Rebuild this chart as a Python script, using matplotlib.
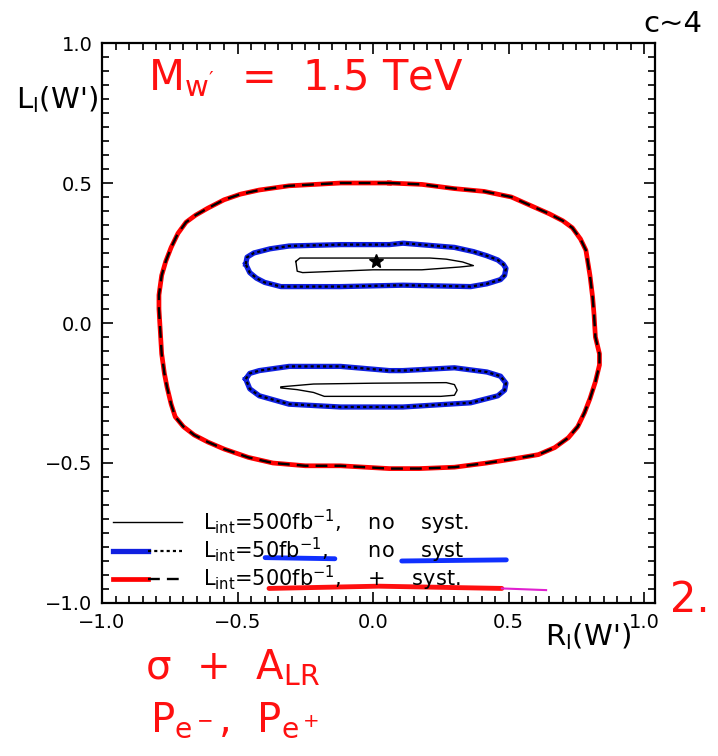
import numpy as np
import matplotlib
matplotlib.use("Agg")
import matplotlib.pyplot as plt
from matplotlib.lines import Line2D
from matplotlib.legend_handler import HandlerTuple
from matplotlib.ticker import MultipleLocator

plt.rcParams['font.family'] = ['DejaVu Sans']
plt.rcParams['mathtext.default'] = 'regular'

# Outer contour: L_int = 500 fb^-1 with systematics
outer_x = [0.06, -0.12, -0.31, -0.42, -0.49, -0.55, -0.61, -0.655, -0.69, -0.72, -0.745, -0.765,
           -0.78, -0.79, -0.79, -0.785, -0.78, -0.77, -0.76, -0.745, -0.73, -0.70, -0.66, -0.61,
           -0.55, -0.46, -0.37, -0.25, -0.12, 0.06, 0.17, 0.30, 0.42, 0.52, 0.61, 0.67, 0.72,
           0.755, 0.78, 0.80, 0.82, 0.835, 0.835, 0.82, 0.815, 0.81, 0.80, 0.79, 0.785, 0.765,
           0.735, 0.70, 0.65, 0.58, 0.51, 0.41, 0.30, 0.18, 0.06]
outer_y = [0.50, 0.50, 0.49, 0.475, 0.46, 0.44, 0.41, 0.385, 0.36, 0.32, 0.27, 0.22,
           0.17, 0.10, 0.05, -0.03, -0.11, -0.18, -0.23, -0.29, -0.335, -0.37, -0.40, -0.425,
           -0.45, -0.48, -0.50, -0.51, -0.51, -0.52, -0.52, -0.515, -0.50, -0.485, -0.47, -0.445, -0.41,
           -0.37, -0.32, -0.27, -0.21, -0.15, -0.11, -0.05, 0.03, 0.09, 0.17, 0.23, 0.26, 0.30,
           0.34, 0.365, 0.39, 0.42, 0.45, 0.47, 0.48, 0.495, 0.50]

# 50 fb^-1, no systematics (two islands)
up50_x = [-0.47, -0.465, -0.44, -0.38, -0.31, -0.12, 0.06, 0.11, 0.30, 0.37, 0.42, 0.46, 0.48,
          0.49, 0.485, 0.47, 0.42, 0.36, 0.11, -0.12, -0.34, -0.40, -0.43, -0.455, -0.47]
up50_y = [0.21, 0.235, 0.25, 0.265, 0.275, 0.28, 0.28, 0.285, 0.27, 0.255, 0.24, 0.225, 0.21,
          0.195, 0.17, 0.155, 0.14, 0.13, 0.135, 0.13, 0.13, 0.145, 0.16, 0.18, 0.21]
lo50_x = [-0.47, -0.455, -0.42, -0.31, -0.12, 0.06, 0.11, 0.30, 0.42, 0.47, 0.49, 0.485, 0.46,
          0.36, 0.11, 0.06, -0.12, -0.31, -0.42, -0.455, -0.47]
lo50_y = [-0.20, -0.18, -0.17, -0.155, -0.155, -0.17, -0.17, -0.16, -0.175, -0.19, -0.215, -0.24, -0.26,
          -0.285, -0.30, -0.30, -0.30, -0.29, -0.26, -0.235, -0.20]

# 500 fb^-1, no systematics (thin inner islands)
up500_x = [-0.285, -0.27, 0.0, 0.21, 0.27, 0.33, 0.37, 0.32, 0.18, 0.0, -0.26, -0.28, -0.285]
up500_y = [0.22, 0.232, 0.232, 0.232, 0.228, 0.218, 0.205, 0.20, 0.19, 0.19, 0.18, 0.185, 0.22]
lo500_x = [-0.34, -0.22, 0.0, 0.27, 0.30, 0.31, 0.30, 0.25, -0.18, -0.22, -0.28, -0.34]
lo500_y = [-0.228, -0.218, -0.215, -0.213, -0.22, -0.24, -0.258, -0.262, -0.262, -0.248, -0.238, -0.232]

# SM-like point
star_x = [0.01]
star_y = [0.22]

xticks = [-1.0, -0.5, 0.0, 0.5, 1.0]
yticks = [-1.0, -0.5, 0.0, 0.5, 1.0]
ticklabels = ["\u22121.0", "\u22120.5", "0.0", "0.5", "1.0"]
labels = [r"L$_{int}$=500fb$^{-1}$,    no    syst.",
          r"L$_{int}$=50fb$^{-1}$,      no    syst",
          r"L$_{int}$=500fb$^{-1}$,    +    syst."]

fig = plt.figure(figsize=(7.18, 7.56), dpi=100)
ax = fig.add_axes([0.1421, 0.2024, 0.7702, 0.7407])

ax.plot(outer_x, outer_y, color='red', lw=3.4, solid_joinstyle='round')
ax.plot(outer_x, outer_y, color='k', lw=1.7, ls=(0, (5, 3)))
for xs, ys in [(up50_x, up50_y), (lo50_x, lo50_y)]:
    ax.plot(xs, ys, color='#1020e0', lw=3.8, solid_joinstyle='round')
    ax.plot(xs, ys, color='k', lw=1.6, ls=(0, (1.4, 1.4)))
for xs, ys in [(up500_x, up500_y), (lo500_x, lo500_y)]:
    ax.plot(xs, ys, color='k', lw=1.0)
ax.plot(star_x, star_y, marker='*', color='k', ms=10, ls='none')

ax.set_xlim(-1.0, 1.04)
ax.set_ylim(-1.0, 1.0)
ax.set_xticks(xticks)
ax.set_yticks(yticks)
ax.set_xticklabels(ticklabels)
ax.set_yticklabels(ticklabels)
ax.xaxis.set_minor_locator(MultipleLocator(0.05))
ax.yaxis.set_minor_locator(MultipleLocator(0.05))
ax.tick_params(which='both', direction='in', top=True, right=True, width=1.2, labelsize=14)
ax.tick_params(which='major', length=8, pad=7)
ax.tick_params(which='minor', length=5)
for s in ax.spines.values():
    s.set_linewidth(1.6)

# legend with overlaid line styles
h1 = Line2D([], [], color='k', lw=1.0)
h2 = (Line2D([], [], color='#1020e0', lw=3.8), Line2D([], [], color='k', lw=1.6, ls=(0, (1.4, 1.4))))
h3 = (Line2D([], [], color='red', lw=3.4), Line2D([], [], color='k', lw=1.7, ls=(0, (5, 3))))
ax.legend([h1, h2, h3], labels, handler_map={tuple: HandlerTuple(ndivide=None, pad=0)},
          loc='lower left', bbox_to_anchor=(0.005, 0.0025), frameon=False, fontsize=15,
          handlelength=3.3, handletextpad=1.0, labelspacing=-0.04, borderaxespad=0.0)

# axis titles
fig.text(57/718, 1-100/756, "L$_l$(W')", fontsize=21, ha='center', va='center')
fig.text(588/718, 1-637/756, "R$_l$(W')", fontsize=21, ha='center', va='center')

# handwritten notes
red = '#ff1010'
fig.text(148/718, 1-78/756, r"M$_{w'}$  =  1.5 TeV", fontsize=30, color=red, va='center')
fig.text(673/718, 1-24/756, "c~4", fontsize=21, color='k', ha='center', va='center')
fig.text(690/718, 1-600/756, "2.", fontsize=30, color=red, ha='center', va='center')
fig.text(145/718, 1-668/756, r"$\sigma$  +  A$_{LR}$", fontsize=29, color=red, va='center')
fig.text(150/718, 1-720/756, r"P$_{e^-}$,  P$_{e^+}$", fontsize=29, color=red, va='center')

# pen underlines in the legend area
ax.plot([0.295, 0.421], [0.081, 0.079], transform=ax.transAxes, color='#1030ff', lw=3.5, solid_capstyle='round')
ax.plot([0.542, 0.731], [0.075, 0.077], transform=ax.transAxes, color='#1030ff', lw=3.5, solid_capstyle='round')
ax.plot([0.302, 0.50, 0.723], [0.026, 0.030, 0.026], transform=ax.transAxes, color=red, lw=3.5, solid_capstyle='round')
ax.plot([0.723, 0.803], [0.026, 0.023], transform=ax.transAxes, color='#e020d0', lw=1.5)

fig.savefig("out.png", dpi=100)
